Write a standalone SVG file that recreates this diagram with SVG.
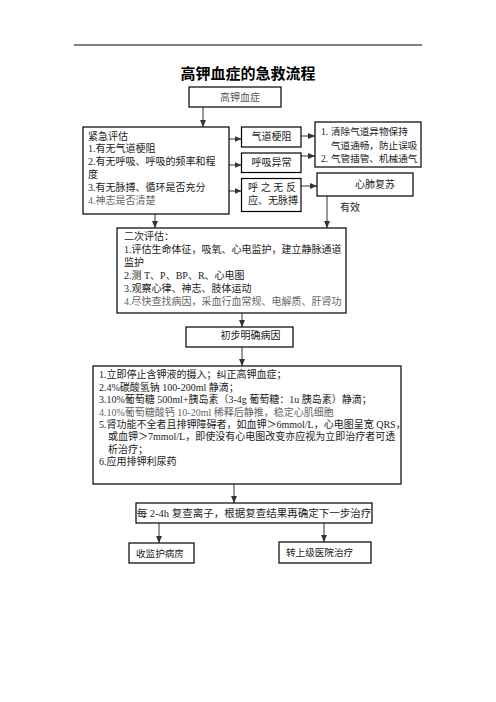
<svg xmlns="http://www.w3.org/2000/svg" width="496" height="702" viewBox="0 0 496 702">
<defs>
<style>
.box{fill:#fff;stroke:#000;stroke-width:1.2}
.t{font-family:"Liberation Serif","Noto Sans CJK SC",serif;font-size:10px;fill:#222}
.g{fill:#666}
.c{text-anchor:middle}
.ln{stroke:#333;stroke-width:1;fill:none;marker-end:url(#ah)}
.title{font-family:"Noto Sans CJK SC",sans-serif;font-size:15px;font-weight:bold;fill:#000;text-anchor:middle}
</style>
<marker id="ah" markerUnits="userSpaceOnUse" markerWidth="7" markerHeight="6" refX="7" refY="3" orient="auto">
<path d="M0,0 L7,3 L0,6 Z" fill="#333"/>
</marker>
</defs>
<rect width="496" height="702" fill="#fff"/>
<line x1="74" y1="45" x2="422" y2="45" stroke="#000" stroke-width="1"/>
<text class="title" x="248" y="79">高钾血症的急救流程</text>

<g id="connectors">
<line class="ln" x1="203" y1="107" x2="203" y2="127"/>
<line class="ln" x1="229" y1="139" x2="241.5" y2="139"/>
<line class="ln" x1="229" y1="165" x2="241.5" y2="165"/>
<line class="ln" x1="229" y1="191" x2="241.5" y2="191"/>
<line class="ln" x1="301" y1="136" x2="315" y2="136"/>
<line class="ln" x1="301" y1="156" x2="315" y2="156"/>
<line class="ln" x1="301" y1="186" x2="317" y2="186"/>
<line class="ln" x1="155" y1="214" x2="155" y2="228"/>
<line class="ln" x1="327" y1="196" x2="327" y2="228"/>
<line class="ln" x1="242" y1="313" x2="242" y2="327"/>
<line class="ln" x1="242" y1="347" x2="242" y2="366"/>
<line class="ln" x1="234" y1="484" x2="234" y2="503"/>
<line class="ln" x1="159" y1="523" x2="159" y2="543"/>
<line class="ln" x1="324" y1="523" x2="324" y2="542"/>
<text class="t" x="340" y="211">有效</text>
</g>

<g id="n-start">
<rect class="box" x="189" y="87" width="92" height="20"/>
<text class="t c" x="240" y="100.5" fill="#555" style="fill:#555">高钾血症</text>
</g>

<g id="n-assess1">
<rect class="box" x="83" y="127" width="146" height="87"/>
<text class="t" x="88" y="139.5">紧急评估</text>
<text class="t" x="88" y="152.3">1.有无气道梗阻</text>
<text class="t" x="88" y="165.1">2.有无呼吸、呼吸的频率和程</text>
<text class="t" x="88" y="177.9">度</text>
<text class="t" x="88" y="190.7">3.有无脉搏、循环是否充分</text>
<text class="t g" x="88" y="203.5">4.神志是否清楚</text>
</g>

<g id="n-airway">
<rect class="box" x="241.5" y="127" width="59.5" height="20"/>
<text class="t c" x="271.5" y="140">气道梗阻</text>
</g>

<g id="n-breath">
<rect class="box" x="241.5" y="153" width="59.5" height="19.5"/>
<text class="t c" x="271.5" y="166">呼吸异常</text>
</g>

<g id="n-noresp">
<rect class="box" x="241.5" y="178.5" width="59.5" height="33"/>
<text class="t" x="248 260.7 273.3 286" y="190.5">呼之无反</text>
<text class="t" x="248" y="203.8">应、无脉搏</text>
</g>

<g id="n-clear">
<rect class="box" x="315" y="122" width="106" height="45"/>
<text class="t" style="font-size:9.6px" x="321" y="135">1.<tspan x="331">清除气道异物保持</tspan></text>
<text class="t" style="font-size:9.6px" x="331" y="148.5">气道通畅，防止误吸</text>
<text class="t" style="font-size:9.6px" x="321" y="161.5">2.<tspan x="331">气管插管、机械通气</tspan></text>
</g>

<g id="n-cpr">
<rect class="box" x="317" y="173" width="96" height="23"/>
<text class="t c" x="375" y="188">心肺复苏</text>
</g>

<g id="n-assess2">
<rect class="box" x="117" y="228" width="229" height="85"/>
<text class="t" x="124" y="239.8">二次评估：</text>
<text class="t" x="124" y="252.8">1.评估生命体征，吸氧、心电监护，建立静脉通道</text>
<text class="t" x="124" y="265.8">监护</text>
<text class="t" x="124" y="278.8">2.测 T、P、BP、R、心电图</text>
<text class="t" x="124" y="291.8">3.观察心律、神志、肢体运动</text>
<text class="t g" x="124" y="304.8">4.尽快查找病因，采血行血常规、电解质、肝肾功</text>
</g>

<g id="n-cause">
<rect class="box" x="186" y="327" width="107" height="20"/>
<text class="t c" x="250.5" y="339">初步明确病因</text>
</g>

<g id="n-treat">
<rect class="box" x="93" y="366" width="308" height="118"/>
<text class="t" x="99" y="378.3">1.立即停止含钾液的摄入；纠正高钾血症；</text>
<text class="t" x="99" y="390.7">2.4%碳酸氢钠 100-200ml 静滴；</text>
<text class="t" x="99" y="403.1">3.10%葡萄糖 500ml+胰岛素（3-4g 葡萄糖：1u 胰岛素）静滴；</text>
<text class="t g" x="99" y="415.5">4.10%葡萄糖酸钙 10-20ml 稀释后静推，稳定心肌细胞</text>
<text class="t" x="99" y="427.9">5.肾功能不全者且排钾障碍者，如血钾＞6mmol/L，心电图呈宽 QRS，</text>
<text class="t" x="108" y="440.3">或血钾＞7mmol/L，即使没有心电图改变亦应视为立即治疗者可透</text>
<text class="t" x="108" y="452.7">析治疗；</text>
<text class="t" x="99" y="465.1">6.应用排钾利尿药</text>
</g>

<g id="n-recheck">
<rect class="box" x="136" y="503" width="236" height="20"/>
<text class="t c" style="font-size:10.5px" x="254" y="517">每 2-4h 复查离子，根据复查结果再确定下一步治疗</text>
</g>

<g id="n-ward">
<rect class="box" x="129" y="543" width="65" height="20"/>
<text class="t" style="font-size:9.6px" x="136" y="556.5">收监护病房</text>
</g>

<g id="n-transfer">
<rect class="box" x="279" y="542" width="92" height="21"/>
<text class="t" style="font-size:9.6px" x="286" y="556">转上级医院治疗</text>
</g>
</svg>
